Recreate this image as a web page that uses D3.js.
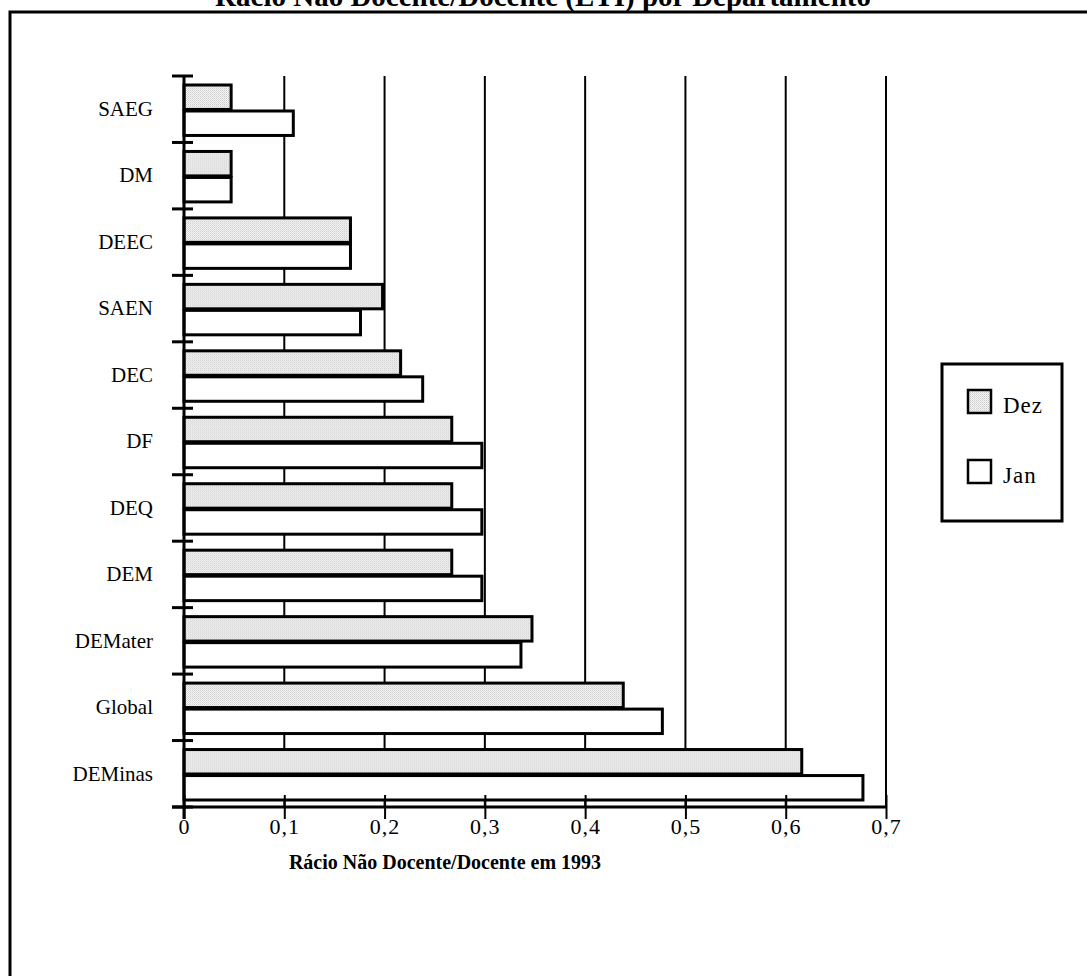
<!DOCTYPE html>
<html>
<head>
<meta charset="utf-8">
<script src="https://cdn.jsdelivr.net/npm/d3@7"></script>
<style>
  body { margin: 0; background: #fff; }
  svg { display: block; font-family: "Liberation Serif", "Times New Roman", serif; }
</style>
</head>
<body>
<svg width="1087" height="976"></svg>
<script>
// DATA
var categories = ["SAEG", "DM", "DEEC", "SAEN", "DEC", "DF", "DEQ", "DEM", "DEMater", "Global", "DEMinas"];
var dez = [0.047, 0.047, 0.166, 0.198, 0.216, 0.267, 0.267, 0.267, 0.347, 0.438, 0.616];
var jan = [0.109, 0.047, 0.166, 0.176, 0.238, 0.297, 0.297, 0.297, 0.336, 0.477, 0.677];
var seriesNames = ["Dez", "Jan"];
var xTicks = [0, 0.1, 0.2, 0.3, 0.4, 0.5, 0.6, 0.7];

var svg = d3.select("svg");

// dotted grey fill
var defs = svg.append("defs");
var pat = defs.append("pattern")
  .attr("id", "dots")
  .attr("width", 2).attr("height", 2)
  .attr("patternUnits", "userSpaceOnUse");
pat.append("rect").attr("width", 2).attr("height", 2).attr("fill", "#f4f4f4");
pat.append("rect").attr("width", 1).attr("height", 1).attr("fill", "#cccccc");
pat.append("rect").attr("x", 1).attr("y", 1).attr("width", 1).attr("height", 1).attr("fill", "#dddddd");

var fills = { Dez: "url(#dots)", Jan: "#fff" };

// outer frame
svg.append("rect")
  .attr("x", 10).attr("y", 12)
  .attr("width", 1100).attr("height", 1000)
  .attr("fill", "none")
  .attr("stroke", "#000")
  .attr("stroke-width", 3);

// title (cut off at top)
svg.append("text")
  .attr("x", 543).attr("y", 6)
  .attr("text-anchor", "middle")
  .attr("font-size", 29)
  .attr("font-weight", "bold")
  .text("Rácio Não Docente/Docente (ETI) por Departamento");

var plotLeft = 184, plotRight = 886, plotTop = 76, plotBottom = 807;

var x = d3.scaleLinear().domain([0, 0.7]).range([plotLeft, plotRight]);
var y = d3.scaleBand().domain(categories).range([plotTop, plotBottom]);
var inner = d3.scaleBand().domain(seriesNames).range([9, y.bandwidth() - 7]).paddingInner(0.06);

var rows = categories.map(function (c, i) { return { cat: c, Dez: dez[i], Jan: jan[i] }; });

// grid lines
svg.append("g")
  .selectAll("line")
  .data(xTicks.slice(1))
  .enter().append("line")
  .attr("x1", function (d) { return x(d); })
  .attr("x2", function (d) { return x(d); })
  .attr("y1", plotTop)
  .attr("y2", plotBottom)
  .attr("stroke", "#000")
  .attr("stroke-width", 2);

// bars
var groups = svg.append("g")
  .selectAll("g")
  .data(rows)
  .enter().append("g")
  .attr("transform", function (d) { return "translate(0," + y(d.cat) + ")"; });

groups.selectAll("rect")
  .data(function (d) { return seriesNames.map(function (s) { return { key: s, value: d[s] }; }); })
  .enter().append("rect")
  .attr("x", x(0))
  .attr("y", function (d) { return inner(d.key); })
  .attr("width", function (d) { return x(d.value) - x(0); })
  .attr("height", inner.bandwidth())
  .attr("fill", function (d) { return fills[d.key]; })
  .attr("stroke", "#000")
  .attr("stroke-width", 3);

// x axis
var xAxis = svg.append("g")
  .attr("transform", "translate(0," + plotBottom + ")")
  .call(d3.axisBottom(x).tickValues(xTicks).tickSize(12).tickPadding(5)
    .tickFormat(function (d) { return d === 0 ? "0" : d3.format(".1f")(d).replace(".", ","); }));
xAxis.select(".domain").remove();
xAxis.append("line")
  .attr("x1", plotLeft - 12).attr("x2", plotRight)
  .attr("stroke", "#000").attr("stroke-width", 3);
xAxis.selectAll(".tick line")
  .attr("y1", -12)
  .attr("stroke-width", 2);
xAxis.selectAll(".tick text")
  .attr("font-family", "Liberation Serif, serif")
  .attr("font-size", 22)
  .attr("letter-spacing", 1)
  .attr("fill", "#000")
  .attr("dy", "0.45em");

// y axis
var yAxis = svg.append("g")
  .attr("transform", "translate(" + plotLeft + ",0)")
  .call(d3.axisLeft(y).tickSize(0).tickPadding(31));
yAxis.select(".domain").remove();
yAxis.selectAll(".tick text")
  .attr("font-family", "Liberation Serif, serif")
  .attr("font-size", 21)
  .attr("fill", "#000");
yAxis.append("line")
  .attr("y1", plotTop).attr("y2", plotBottom + 12)
  .attr("stroke", "#000").attr("stroke-width", 3);
yAxis.selectAll(".ytick")
  .data(categories.map(function (c) { return y(c); }).concat([plotBottom]))
  .enter().append("line")
  .attr("class", "ytick")
  .attr("x1", -12).attr("x2", 9)
  .attr("y1", function (d) { return d; })
  .attr("y2", function (d) { return d; })
  .attr("stroke", "#000")
  .attr("stroke-width", 3);

// axis title
svg.append("text")
  .attr("x", 445).attr("y", 869)
  .attr("text-anchor", "middle")
  .attr("font-size", 20)
  .attr("font-weight", "bold")
  .text("Rácio Não Docente/Docente em 1993");

// legend
var legend = svg.append("g");
legend.append("rect")
  .attr("x", 942).attr("y", 364)
  .attr("width", 120).attr("height", 157)
  .attr("fill", "#fff")
  .attr("stroke", "#000")
  .attr("stroke-width", 3);
var items = legend.selectAll("g")
  .data(seriesNames)
  .enter().append("g")
  .attr("transform", function (d, i) { return "translate(968," + (390 + i * 70) + ")"; });
items.append("rect")
  .attr("width", 23).attr("height", 23)
  .attr("fill", function (d) { return fills[d]; })
  .attr("stroke", "#000")
  .attr("stroke-width", 2.5);
items.append("text")
  .attr("x", 35).attr("y", 23)
  .attr("font-size", 23)
  .attr("letter-spacing", 1)
  .text(function (d) { return d; });
</script>
</body>
</html>
